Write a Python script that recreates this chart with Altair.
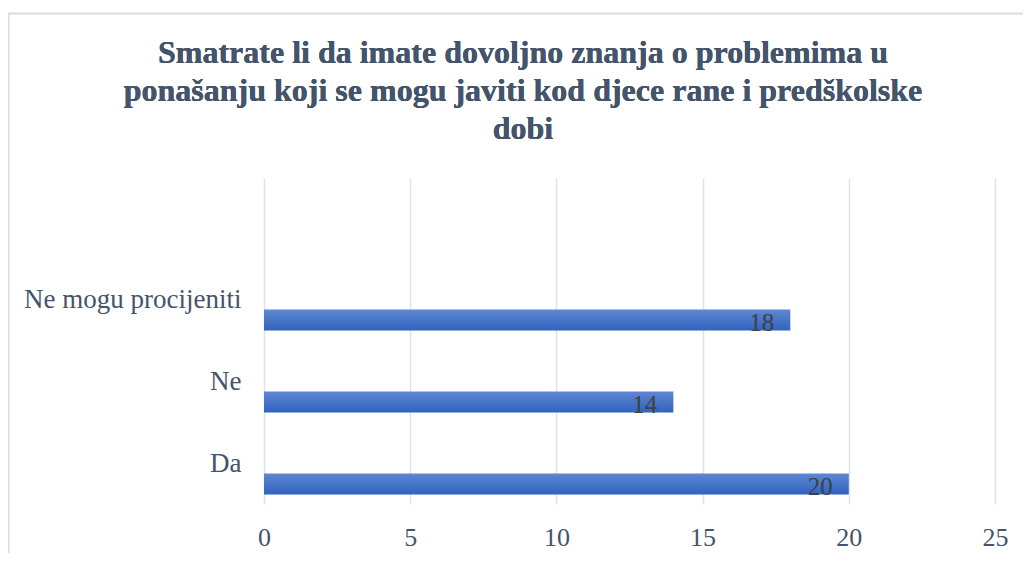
import altair as alt
import pandas as pd

categories = ["Ne mogu procijeniti", "Ne", "Da"]
values = [18, 14, 20]
x_ticks = [0, 5, 10, 15, 20, 25]
title_lines = [
    "Smatrate li da imate dovoljno znanja o problemima u",
    "ponašanju koji se mogu javiti kod djece rane i predškolske",
    "dobi",
]

df = pd.DataFrame({"cat": categories, "val": values})

FONT = "Liberation Serif"
SLATE = "#44546A"

y_enc = alt.Y(
    "cat:N",
    sort=categories,
    scale=alt.Scale(paddingInner=0.744, paddingOuter=0.86, align=0.933),
    axis=alt.Axis(
        title=None, domain=False, ticks=False, labelFont=FONT, labelFontSize=27,
        labelColor=SLATE, labelPadding=23, labelOffset=-20, labelLimit=400,
    ),
)
x_enc = alt.X(
    "val:Q",
    scale=alt.Scale(domain=[0, 25], nice=False),
    axis=alt.Axis(
        title=None, values=x_ticks, domain=False, ticks=False, grid=True,
        gridColor="#DEE2EA", gridWidth=1.5, labelFont=FONT, labelFontSize=26,
        labelColor=SLATE, labelPadding=20, labelFlush=False,
    ),
)

border = alt.Chart(df).mark_rect(fill=None, stroke="#D9DDE4", strokeWidth=1.5).encode(
    x=alt.value(-255.5), x2=alt.value(800), y=alt.value(-164.5), y2=alt.value(420)
)

title = alt.Chart(df).mark_text(
    align="center", baseline="middle", font=FONT, fontSize=32, fontWeight="bold",
    color=SLATE, lineHeight=38,
).encode(x=alt.value(259), y=alt.value(-125), text=alt.value(title_lines))

grad = alt.LinearGradient(
    gradient="linear",
    stops=[alt.GradientStop(color="#5F87D2", offset=0), alt.GradientStop(color="#2F63BD", offset=1)],
    x1=0, x2=0, y1=0, y2=1,
)

bars = alt.Chart(df).mark_bar(color=grad).encode(y=y_enc, x=x_enc)

labels = alt.Chart(df).mark_text(
    align="right", baseline="middle", dx=-16, dy=3, font=FONT, fontSize=25, color="#404040"
).encode(y=alt.Y("cat:N", sort=categories), x="val:Q", text="val:Q")

chart = (
    alt.layer(border, bars, labels, title)
    .properties(
        width=731,
        height=326,
        autosize="none",
        padding={"left": 256, "top": 170, "right": 28, "bottom": 49},
    )
    .configure_view(stroke=None)
)

chart.save("out.html", embed_options={"renderer": "svg", "actions": False})
